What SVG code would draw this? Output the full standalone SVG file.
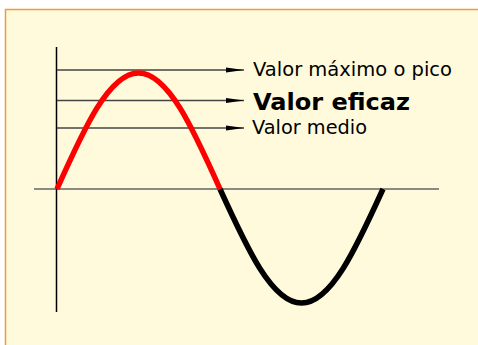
<svg xmlns="http://www.w3.org/2000/svg" width="478" height="345" viewBox="0 0 478 345">
<defs>
<style>
.ref{stroke:#444;stroke-width:1.3;fill:none;marker-end:url(#arr)}
.lbl{font-family:"DejaVu Sans","Liberation Sans",sans-serif;fill:#000}
.wave{fill:none;stroke-width:5.5;stroke-linecap:butt}
</style>
<marker id="arr" markerUnits="userSpaceOnUse" markerWidth="20" markerHeight="8" refX="18" refY="3" orient="auto">
<path d="M0,0.5 L18,3 L0,5.5 z" fill="#000"/>
</marker>
</defs>
<rect x="0" y="0" width="478" height="345" fill="#fff"/>
<rect x="5.5" y="9.5" width="480" height="340" fill="#FFFADB" stroke="#F29A3A" stroke-width="1.5"/>
<g id="axes">
<line x1="34" y1="189" x2="439" y2="189" stroke="#666" stroke-width="1.5"/>
<line x1="56.5" y1="47" x2="56.5" y2="312" stroke="#000" stroke-width="1.5"/>
</g>
<g id="connectors">
<line class="ref" x1="57" y1="70" x2="244" y2="70"/>
<line class="ref" x1="57" y1="100.5" x2="244" y2="100.5"/>
<line class="ref" x1="57" y1="128" x2="244" y2="128"/>
</g>
<g id="wave">
<path class="wave" stroke="#000" d="M220,189 C247.2,248.9 272.1,303 301.5,303 C330.9,303 355.8,248.9 383,189"/>
<path class="wave" stroke="#FF0000" d="M57,189 C84.2,128.1 109.1,73 138.5,73 C167.9,73 192.8,128.1 220,189"/>
</g>
<g id="label-pico"><text class="lbl" x="253" y="76" font-size="19" textLength="199" lengthAdjust="spacingAndGlyphs">Valor máximo o pico</text></g>
<g id="label-eficaz"><text class="lbl" x="253" y="110" font-size="23" font-weight="bold" textLength="157" lengthAdjust="spacingAndGlyphs">Valor eficaz</text></g>
<g id="label-medio"><text class="lbl" x="252" y="133.5" font-size="19" textLength="115" lengthAdjust="spacingAndGlyphs">Valor medio</text></g>
</svg>
